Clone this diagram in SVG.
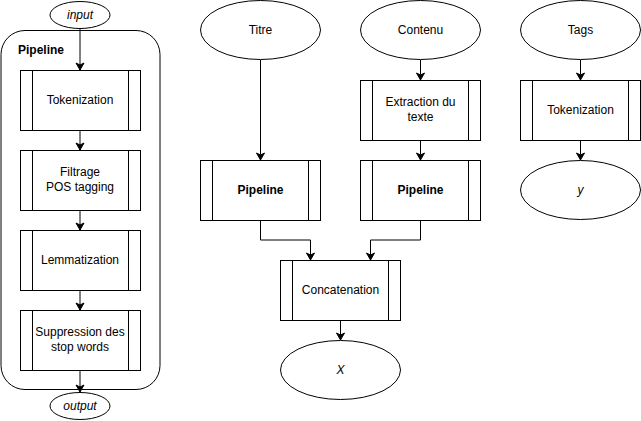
<svg xmlns="http://www.w3.org/2000/svg" width="641" height="421" viewBox="0 0 641 421">
<style>
.s{fill:#fff;stroke:#000;stroke-width:1}
.ln{fill:none;stroke:#000;stroke-width:1}
.c{stroke:#000;stroke-width:1;fill:none;marker-end:url(#ah)}
text{font-family:"Liberation Sans",Arial,Helvetica,sans-serif;font-size:12px;fill:#000;text-anchor:middle}
.b{font-weight:bold}
.i{font-style:italic}
</style>
<defs>
<marker id="ah" markerUnits="userSpaceOnUse" markerWidth="10" markerHeight="10" viewBox="-8 -5 9 10" refX="0" refY="0" orient="auto" overflow="visible">
<path d="M0,0 L-7,-4 L-5,0 L-7,4 Z" fill="#000" stroke="#000" stroke-width="1"/>
</marker>
</defs>
<rect width="641" height="421" fill="#fff"/>
<g id="container-pipeline">
<rect class="s" x="1" y="30.5" width="159" height="359" rx="24" ry="24"/>
<text class="b" x="18" y="54" style="text-anchor:start">Pipeline</text>
</g>
<g id="connectors">
<path class="c" d="M80,29 L80,70"/>
<path class="c" d="M80,130 L80,150"/>
<path class="c" d="M80,210 L80,230"/>
<path class="c" d="M80,290 L80,310"/>
<path class="c" d="M80,370 L80,392"/>
<path class="c" d="M260.5,60 L260.5,160"/>
<path class="c" d="M420.5,60 L420.5,80"/>
<path class="c" d="M420.5,140 L420.5,160"/>
<path class="c" d="M260.5,220 L260.5,240 L310.5,240 L310.5,260"/>
<path class="c" d="M420.5,220 L420.5,240 L370.5,240 L370.5,260"/>
<path class="c" d="M340.5,320 L340.5,340"/>
<path class="c" d="M580.5,60 L580.5,80"/>
<path class="c" d="M580.5,140 L580.5,160"/>
</g>
<g id="input">
<ellipse class="s" cx="80" cy="15" rx="30" ry="13.5"/>
<text class="i" x="80" y="19">input</text>
</g>
<g id="tokenization-1">
<rect class="s" x="20.5" y="70.5" width="120" height="60"/>
<path class="ln" d="M32.5,70.5 V130.5 M128.5,70.5 V130.5"/>
<text x="80" y="104">Tokenization</text>
</g>
<g id="filtrage">
<rect class="s" x="20.5" y="150.5" width="120" height="60"/>
<path class="ln" d="M32.5,150.5 V210.5 M128.5,150.5 V210.5"/>
<text x="80" y="176">Filtrage</text>
<text x="80" y="190.5">POS tagging</text>
</g>
<g id="lemmatization">
<rect class="s" x="20.5" y="230.5" width="120" height="60"/>
<path class="ln" d="M32.5,230.5 V290.5 M128.5,230.5 V290.5"/>
<text x="80" y="264">Lemmatization</text>
</g>
<g id="suppression">
<rect class="s" x="20.5" y="310.5" width="120" height="60"/>
<path class="ln" d="M32.5,310.5 V370.5 M128.5,310.5 V370.5"/>
<text x="80" y="336">Suppression des</text>
<text x="80" y="350.5">stop words</text>
</g>
<g id="output">
<ellipse class="s" cx="80" cy="406" rx="30" ry="13.5"/>
<text class="i" x="80" y="410">output</text>
</g>
<g id="titre">
<ellipse class="s" cx="260.5" cy="30" rx="60" ry="29.5"/>
<text x="260.5" y="34">Titre</text>
</g>
<g id="contenu">
<ellipse class="s" cx="420.5" cy="30" rx="60" ry="29.5"/>
<text x="420.5" y="34">Contenu</text>
</g>
<g id="tags">
<ellipse class="s" cx="580.5" cy="30" rx="60" ry="29.5"/>
<text x="580.5" y="34">Tags</text>
</g>
<g id="extraction">
<rect class="s" x="360.5" y="80.5" width="120" height="60"/>
<path class="ln" d="M372.5,80.5 V140.5 M468.5,80.5 V140.5"/>
<text x="420.5" y="106">Extraction du</text>
<text x="420.5" y="120.5">texte</text>
</g>
<g id="tokenization-2">
<rect class="s" x="520.5" y="80.5" width="120" height="60"/>
<path class="ln" d="M532.5,80.5 V140.5 M628.5,80.5 V140.5"/>
<text x="580.5" y="114">Tokenization</text>
</g>
<g id="pipeline-1">
<rect class="s" x="200.5" y="160.5" width="120" height="60"/>
<path class="ln" d="M212.5,160.5 V220.5 M308.5,160.5 V220.5"/>
<text class="b" x="260.5" y="194">Pipeline</text>
</g>
<g id="pipeline-2">
<rect class="s" x="360.5" y="160.5" width="120" height="60"/>
<path class="ln" d="M372.5,160.5 V220.5 M468.5,160.5 V220.5"/>
<text class="b" x="420.5" y="194">Pipeline</text>
</g>
<g id="y">
<ellipse class="s" cx="580.5" cy="190" rx="60" ry="29.5"/>
<text class="i" x="580.5" y="194">y</text>
</g>
<g id="concatenation">
<rect class="s" x="280.5" y="260.5" width="120" height="60"/>
<path class="ln" d="M292.5,260.5 V320.5 M388.5,260.5 V320.5"/>
<text x="340.5" y="294">Concatenation</text>
</g>
<g id="x">
<ellipse class="s" cx="340.5" cy="370" rx="60" ry="29.5"/>
<text class="i" x="340.5" y="374">X</text>
</g>
</svg>
